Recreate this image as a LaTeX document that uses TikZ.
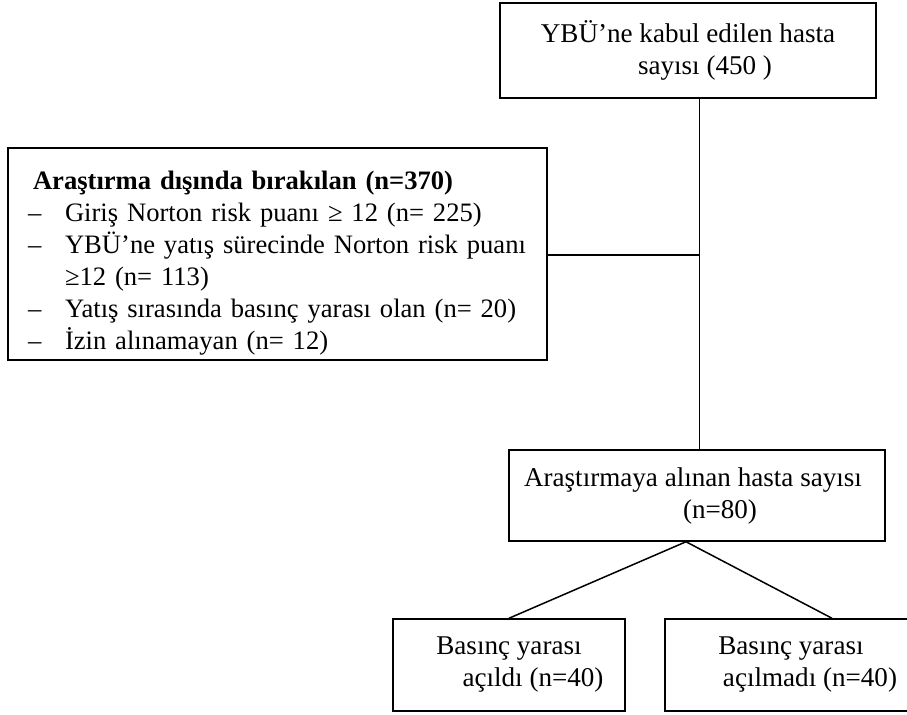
\documentclass[tikz,border=0pt]{standalone}
\usepackage{fontspec}
\setmainfont{Liberation Serif}
\usepackage{tikz}
\usetikzlibrary{positioning}

\begin{document}
\begin{tikzpicture}[x=0.5pt,y=-0.5pt,
				box node/.style={rectangle,draw,line width=0.75pt,inner sep=0pt,
					font=\fontsize{13.55}{16}\selectfont,align=center}]

				\useasboundingbox (0,0) rectangle (907,714);

				\node[box node,minimum width=188pt,minimum height=47.5pt] (top) at (688,50.5)
					{YBÜ’ne kabul edilen hasta\\\hspace*{17pt}sayısı (450 )};
				\node[box node,align=left,text width=244.5pt,inner xsep=12.5pt,
					minimum height=106pt,font=\fontsize{13.3}{16}\selectfont] (excl) at (277.5,254)
					{\rule{0pt}{18pt}\textbf{Araştırma dışında bırakılan (n=370)}\\
					\makebox[16pt][l]{\hspace*{-2.5pt}–}\mbox{Giriş Norton risk puanı ≥ 12 (n= 225)}\\
					\makebox[16pt][l]{\hspace*{-2.5pt}–}\mbox{YBÜ’ne yatış sürecinde Norton risk puanı}\\
					\hspace*{16pt}\mbox{≥12 (n= 113)}\\
					\makebox[16pt][l]{\hspace*{-2.5pt}–}\mbox{Yatış sırasında basınç yarası olan (n= 20)}\\
					\makebox[16pt][l]{\hspace*{-2.5pt}–}\mbox{İzin alınamayan (n= 12)}};
				\node[box node,minimum width=188pt,minimum height=45.5pt] (incl) at (697,495.5)
					{Araştırmaya alınan hasta sayısı\hspace*{4pt}\\\hspace*{23pt}(n=80)};
				\node[box node,minimum width=116pt,minimum height=46pt] (opened) at (509,665)
					{Basınç yarası\\\hspace*{24pt}açıldı (n=40)};
				\node[box node,minimum width=126pt,minimum height=46pt] (notopen) at (791,665)
					{Basınç yarası\\\hspace*{19pt}açılmadı (n=40)};

				\coordinate (j) at (699,255);

				\path[-,line width=0.5pt]
				(top.south -| j) edge (incl.north -| j);
				\path[-,line width=0.75pt]
				(excl.east |- j) edge (j)
				([xshift=-5.5pt]incl.south) edge (opened.north)
				([xshift=-5.5pt]incl.south) edge ([xshift=20.5pt]notopen.north);
			\end{tikzpicture}
\end{document}
